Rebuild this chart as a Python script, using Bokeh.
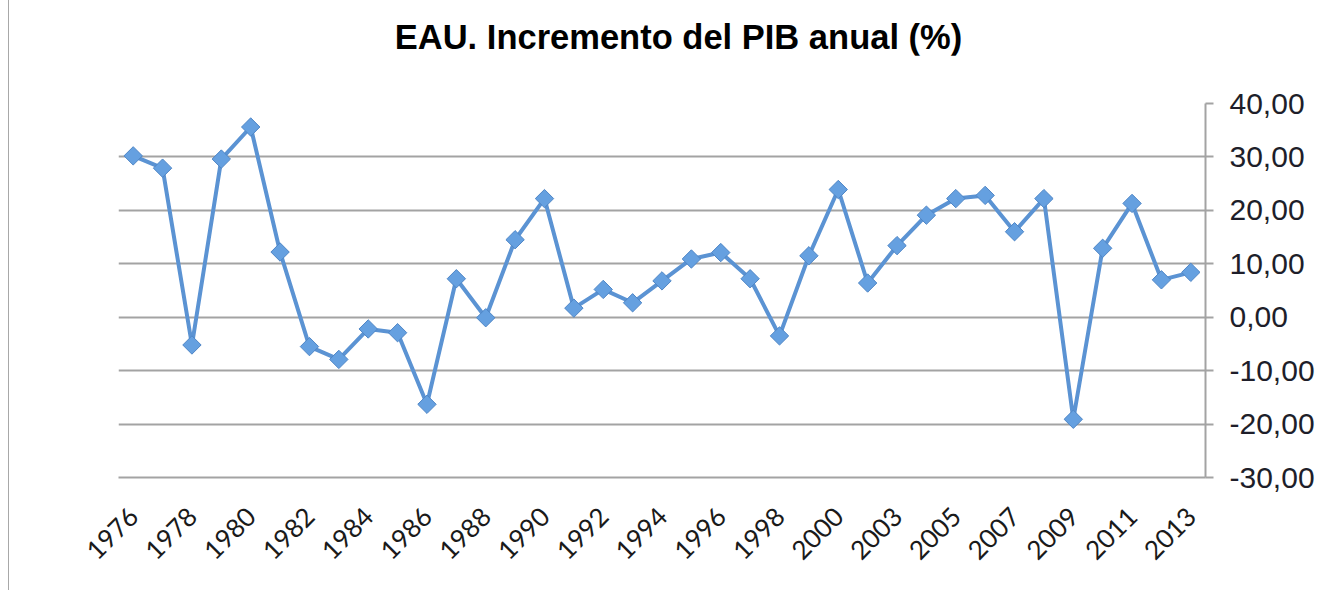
import math
from bokeh.plotting import figure
from bokeh.models import Range1d, FixedTicker, Div
from bokeh.layouts import column
from bokeh.embed import file_html
from bokeh.resources import INLINE

years = ["1976", "1977", "1978", "1979", "1980", "1981", "1982", "1983", "1984", "1985",
         "1986", "1987", "1988", "1989", "1990", "1991", "1992", "1993", "1994", "1995",
         "1996", "1997", "1998", "1999", "2000", "2002", "2003", "2004", "2005", "2006",
         "2007", "2008", "2009", "2010", "2011", "2012", "2013"]
growth = [30.2, 27.9, -5.2, 29.6, 35.6, 12.2, -5.5, -7.9, -2.2, -2.9,
          -16.3, 7.2, -0.1, 14.5, 22.2, 1.7, 5.2, 2.7, 6.8, 10.9,
          12.1, 7.2, -3.5, 11.5, 23.9, 6.4, 13.4, 19.1, 22.2, 22.8,
          16.0, 22.2, -19.1, 12.9, 21.3, 7.0, 8.4]
y_ticks = [-30, -20, -10, 0, 10, 20, 30, 40]
title_text = "EAU. Incremento del PIB anual (%)"

idx = list(range(len(years)))

W = 1329
title_div = Div(text=title_text, width=W, height=45,
                styles={"font-family": "'Liberation Sans', Arial, sans-serif",
                        "font-weight": "bold", "font-size": "34.5px",
                        "line-height": "34px", "color": "#000000",
                        "text-align": "center",
                        "padding-top": "15px", "background": "white"})

p = figure(width=W, height=535, output_backend="svg", toolbar_location=None,
           x_range=Range1d(-0.5, len(years) - 0.5), y_range=Range1d(-30, 40),
           y_axis_location="right",
           min_border_left=109, min_border_right=133, min_border_top=48,
           min_border_bottom=113)

p.outline_line_color = None
p.background_fill_color = "white"
p.border_fill_color = "white"

grid_color = "#a3a3a3"
p.xgrid.grid_line_color = None
p.ygrid.grid_line_color = grid_color
p.ygrid.grid_line_width = 2
p.ygrid.ticker = FixedTicker(ticks=y_ticks)

yax = p.yaxis[0]
yax.ticker = FixedTicker(ticks=y_ticks)
yax.major_label_overrides = {t: f"{t:.2f}".replace(".", ",") for t in y_ticks}
yax.major_label_text_font = "Liberation Sans"
yax.major_label_text_font_size = "30px"
yax.major_label_text_color = "#1e1e2a"
yax.axis_line_color = grid_color
yax.axis_line_width = 2
yax.major_tick_line_color = grid_color
yax.major_tick_line_width = 2
yax.major_tick_out = 8
yax.major_tick_in = 0
yax.minor_tick_line_color = None
yax.major_label_standoff = 16

xax = p.xaxis[0]
label_idx = [i for i in idx if i % 2 == 0]
xax.ticker = FixedTicker(ticks=label_idx)
xax.major_label_overrides = {i: years[i] for i in label_idx}
xax.major_label_orientation = math.pi / 4
xax.major_label_text_font = "Lato"
xax.major_label_text_font_size = "26px"
xax.major_label_text_color = "#1a1a1a"
xax.axis_line_color = grid_color
xax.axis_line_width = 2
xax.major_tick_line_color = None
xax.minor_tick_line_color = None
xax.major_label_standoff = 28

line_color = "#5b93d3"
p.line(x=idx, y=growth, line_color=line_color, line_width=4)
p.scatter(x=idx, y=growth, marker="square", angle=math.pi / 4, size=13,
          fill_color="#65a0e0", line_color="#4f86c6", line_width=1)

layout = column(title_div, p, spacing=0,
                styles={"margin-left": "8px",
                        "border-left": "1px solid #a8a8a8",
                        "border-right": "1px solid #a8a8a8",
                        "background": "white"})

open("out.html", "w").write(file_html(layout, INLINE))
